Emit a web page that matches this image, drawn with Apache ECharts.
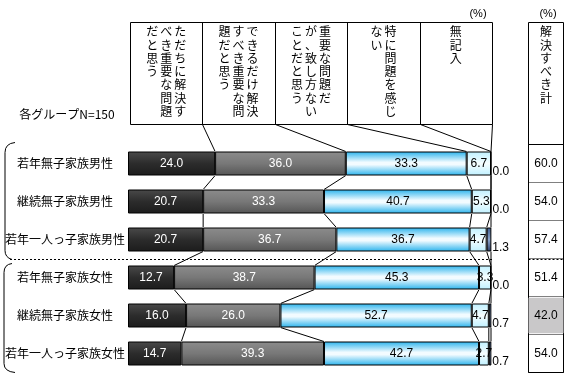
<!DOCTYPE html>
<html><head><meta charset="utf-8">
<script src="https://cdn.jsdelivr.net/npm/echarts@6/dist/echarts.min.js"></script>
<style>html,body{margin:0;padding:0;background:#fff}#c{width:567px;height:378px}</style>
</head><body><div id="c"></div>
<script>
// ---------- data ----------
const categories = ['若年無子家族男性','継続無子家族男性','若年一人っ子家族男性','若年無子家族女性','継続無子家族女性','若年一人っ子家族女性'];
const seriesNames = ['ただちに解決すべき重要な問題だと思う','できるだけ解決すべき重要な問題だと思う','重要な問題だが、致し方ないことだと思う','特に問題を感じない','無記入'];
const headerColumns = [
  ['ただちに解決す','べき重要な問題','だと思う'],
  ['できるだけ解決','すべき重要な問','題だと思う'],
  ['重要な問題だ','が、致し方ない','ことだと思う'],
  ['特に問題を感じ','ない'],
  ['無記入']
];
const immediate   = [24.0, 20.7, 20.7, 12.7, 16.0, 14.7];
const asPossible  = [36.0, 33.3, 36.7, 38.7, 26.0, 39.3];
const unavoidable = [33.3, 40.7, 36.7, 45.3, 52.7, 42.7];
const noProblem   = [6.7, 5.3, 4.7, 3.3, 4.7, 2.7];
const noAnswer    = [0.0, 0.0, 1.3, 0.0, 0.7, 0.7];
const totals      = [60.0, 54.0, 57.4, 51.4, 42.0, 54.0];
const totalTitle = '解決すべき計';
const sampleNote = '各グループN=150';
const unitLabel = '(%)';

// ---------- styles ----------
const JP = '"Noto Sans CJK JP", sans-serif';
const NUM = '"Liberation Sans", Arial, sans-serif';
const G = (stops) => new echarts.graphic.LinearGradient(0,0,0,1, stops.map(s => ({offset:s[0], color:s[1]})));
const fills = [
  G([[0,'#4a4a4a'],[0.5,'#2c2c2c'],[1,'#1c1c1c']]),
  G([[0,'#8c8c8c'],[0.5,'#787878'],[1,'#555555']]),
  G([[0,'#28b2ec'],[0.45,'#f2fbff'],[0.55,'#f2fbff'],[1,'#28b2ec']]),
  G([[0,'#bff0ff'],[0.5,'#f6feff'],[1,'#bff0ff']]),
  G([[0,'#3c5a8c'],[0.5,'#8aa4cc'],[1,'#2a3c66']])
];
const labelColors = ['#fff','#fff','#000','#000','#000'];
const allSeries = [immediate, asPossible, unavoidable, noProblem, noAnswer];
const BAR_W = 24;

const cum = categories.map((c, i) => {
  let s = 0; const out = [];
  allSeries.forEach(arr => { s += arr[i]; out.push(Math.min(100, s)); });
  return out;
});

const chart = echarts.init(document.getElementById('c'), null, {renderer:'canvas'});

const barSeries = allSeries.map((arr, k) => ({
  name: seriesNames[k], type: 'bar', stack: 'all', xAxisIndex: 0, yAxisIndex: 0,
  barWidth: BAR_W, data: arr, silent: true,
  itemStyle: {color: fills[k], borderColor: '#000', borderWidth: 1},
  label: k < 4 ? {
    show: true, position: 'inside', color: labelColors[k], fontFamily: NUM, fontSize: 12,
    formatter: p => p.value.toFixed(1)
  } : {
    show: true, position: 'right', distance: 1, offset: [0, 8], color: '#000',
    fontFamily: NUM, fontSize: 12, formatter: p => p.value.toFixed(1)
  }
}));

const connectorSeries = {
  type: 'custom', xAxisIndex: 0, yAxisIndex: 0, silent: true, z: 5,
  data: categories.slice(0, -1).map((c, i) => [0, i]),
  encode: {x: 0, y: 1},
  renderItem: (params, api) => {
    const i = api.value(1);
    const children = [];
    for (let k = 0; k < 5; k++) {
      const a = api.coord([cum[i][k], i]);
      const b = api.coord([cum[i+1][k], i+1]);
      children.push({type:'line', shape:{x1:a[0], y1:a[1]+BAR_W/2, x2:b[0], y2:b[1]-BAR_W/2},
        style:{stroke:'#000', lineWidth:1}});
    }
    return {type:'group', children};
  }
};

const minTotal = Math.min(...totals);
const totalSeries = {
  type: 'bar', xAxisIndex: 1, yAxisIndex: 1, barCategoryGap: '6%', silent: true,
  data: totals.map(v => ({value: 1, itemStyle: {color: v === minTotal ? '#c9c8c9' : 'rgba(0,0,0,0)'}})),
  label: {show: true, position: 'inside', color: '#000', fontFamily: NUM, fontSize: 12,
    formatter: p => totals[p.dataIndex].toFixed(1)}
};

chart.setOption({
  animation: false,
  grid: [
    {left: 128, top: 144.5, width: 363, height: 228},
    {left: 528.5, top: 144.5, width: 35, height: 228, show: true, borderColor: '#000', borderWidth: 1}
  ],
  xAxis: [
    {type: 'value', gridIndex: 0, min: 0, max: 100, show: false},
    {type: 'value', gridIndex: 1, min: 0, max: 1, show: false}
  ],
  yAxis: [
    {type: 'category', gridIndex: 0, data: categories, inverse: true,
      axisLine: {show: false}, axisTick: {show: false}, splitLine: {show: false},
      axisLabel: {align: 'center', margin: 63, fontSize: 12, color: '#000', fontFamily: JP}},
    {type: 'category', gridIndex: 1, data: categories, inverse: true,
      axisLine: {show: false}, axisTick: {show: false}, axisLabel: {show: false},
      splitLine: {show: true, lineStyle: {type: 'dotted', color: '#000', width: 1}}}
  ],
  series: [...barSeries, connectorSeries, totalSeries]
});

// ---------- decorations positioned through the chart's scales ----------
const px = (x, row) => chart.convertToPixel({gridIndex: 0}, [x, row]);
const HX0 = 130, HX1 = 492, HY0 = 22.5, HY1 = 124.5;
const colW = (HX1 - HX0) / 5;
const g = [];
const STROKE = {stroke:'#000', lineWidth:1, fill:'none'};
const line = (x1, y1, x2, y2, style) => g.push({type:'line', silent:true,
  shape:{x1, y1, x2, y2}, style: style || STROKE});
const curve = (x1, y1, cx, cy, x2, y2) => g.push({type:'bezierCurve', silent:true,
  shape:{x1, y1, x2, y2, cpx1: cx, cpy1: cy}, style: STROKE});
const txt = (text, x, y, opts) => g.push({type:'text', silent:true, style: Object.assign({
  text, x, y, fill:'#000', font:'12px ' + JP, align:'center', textAlign:'center',
  verticalAlign:'top', textVerticalAlign:'top'}, opts || {})});

// header box
g.push({type:'rect', silent:true, shape:{x:HX0+0.5, y:HY0, width:HX1-HX0, height:HY1-HY0},
  style:{fill:'none', stroke:'#000', lineWidth:1}});
for (let k = 1; k < 5; k++) line(Math.round(HX0 + colW*k)+0.5, HY0, Math.round(HX0 + colW*k)+0.5, HY1);
// vertical header text
headerColumns.forEach((cols, k) => {
  const cx = HX0 + colW*k + colW/2;
  const n = cols.length;
  cols.forEach((s, j) => {
    const x = cx + (n-1)/2*14 - j*14;
    txt(s.split('').join('\n'), x, 25, {lineHeight: 13.3});
  });
});
// header connectors to first bar
const top0 = px(0, 0)[1] - BAR_W/2;
for (let k = 1; k <= 5; k++) {
  const hx = (k < 5 ? Math.round(HX0 + colW*k) : HX1) + 0.5;
  line(hx, HY1, px(cum[0][k-1], 0)[0], top0);
}
// units
txt(unitLabel, 478, 8, {font:'11px ' + NUM});
txt(unitLabel, 548, 8, {font:'11px ' + NUM});
// right header box
const RX0 = 528.5, RX1 = 563.5;
g.push({type:'rect', silent:true, shape:{x:RX0, y:HY0, width:RX1-RX0, height:144.5-HY0},
  style:{fill:'none', stroke:'#000', lineWidth:1}});
txt(totalTitle.split('').join('\n'), (RX0+RX1)/2, 25, {lineHeight: 13.3});
// sample note
txt(sampleNote, 67, 108);
// group separator (dashed)
const ySep = Math.round((px(0, 2)[1] + px(0, 3)[1]) / 2) + 0.5;
const DASH = {stroke:'#000', lineWidth:1, lineDash:[2,2]};
line(10, ySep, HX1, ySep, DASH);
line(RX0, ySep, RX1, ySep, DASH);
// braces
const yTop = px(0, 0)[1] - 21, yBot = px(0, 5)[1] + 19;
curve(15, yTop, 5, yTop + 1, 5, yTop + 10);
line(5, yTop + 10, 5, ySep - 9);
curve(5, ySep - 9, 5, ySep - 2, 12, ySep);
curve(12, ySep + 4, 4, ySep + 5, 4, ySep + 13);
line(4, ySep + 13, 4, yBot - 9);
curve(4, yBot - 9, 4, yBot - 1, 15, yBot);

chart.setOption({graphic: {elements: g}});
</script>
</body></html>
